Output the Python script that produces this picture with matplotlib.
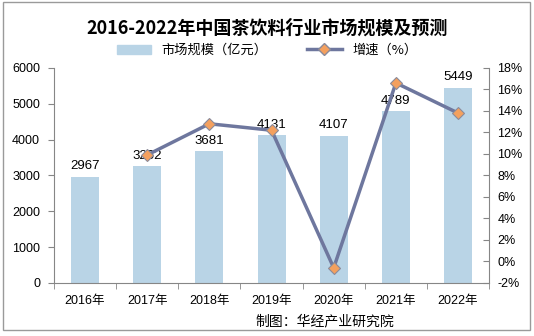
import matplotlib.pyplot as plt
from matplotlib.patches import Rectangle
from matplotlib.lines import Line2D
from matplotlib.patches import Patch

plt.rcParams['font.family'] = ['Liberation Sans', 'Noto Sans CJK SC', 'DejaVu Sans']

# Data
years = ["2016年", "2017年", "2018年", "2019年", "2020年", "2021年", "2022年"]
market_size = [2967, 3262, 3681, 4131, 4107, 4789, 5449]
growth_years = ["2017年", "2018年", "2019年", "2020年", "2021年", "2022年"]
growth = [9.9, 12.8, 12.2, -0.6, 16.6, 13.8]

bar_color = "#B9D4E6"
line_color = "#6E779E"
marker_color = "#F4A05E"

fig = plt.figure(figsize=(5.34, 3.36), dpi=100)
ax = fig.add_axes([0.101, 0.158, 0.815, 0.64])

x = list(range(len(years)))
ax.bar(x, market_size, width=0.45, color=bar_color, zorder=2)
for xi, v in zip(x, market_size):
    ax.text(xi, v + 120, str(v), ha="center", va="bottom", fontsize=9.5, zorder=5)

ax.set_xlim(-0.5, len(years) - 0.5)
ax.set_ylim(0, 6000)
ax.set_yticks(range(0, 6001, 1000))
ax.set_xticks(x)
ax.set_xticklabels(years, fontsize=9)
ax.set_xticks([i + 0.5 for i in range(-1, len(years))], minor=True)
ax.tick_params(axis="x", which="major", length=0, pad=9)
ax.tick_params(axis="x", which="minor", length=4, color="#868686")
ax.tick_params(axis="y", length=4, color="#868686", labelsize=9, pad=6)
for s in ["top", "right"]:
    ax.spines[s].set_visible(False)
ax.spines["left"].set_color("#868686")
ax.spines["bottom"].set_color("#868686")

ax2 = ax.twinx()
gx = [years.index(y) for y in growth_years]
ax2.plot(gx, growth, color=line_color, linewidth=2.5, marker="D", markersize=6,
         markerfacecolor=marker_color, markeredgecolor="#8A8A9A", markeredgewidth=0.8, zorder=4)
ax2.set_ylim(-2, 18)
ax2.set_yticks(range(-2, 19, 2))
ax2.set_yticklabels([f"{v}%" for v in range(-2, 19, 2)])
ax2.tick_params(axis="y", direction="in", length=4, color="#868686", labelsize=9, pad=6)
for s in ["top", "left", "bottom"]:
    ax2.spines[s].set_visible(False)
ax2.spines["right"].set_color("#868686")

fig.text(0.5, 0.915, "2016-2022年中国茶饮料行业市场规模及预测", ha="center", va="center",
         fontsize=13, fontweight="bold", family=["Noto Sans CJK SC", "DejaVu Sans"])

handles = [Patch(color=bar_color),
           Line2D([0], [0], color=line_color, linewidth=2.5, marker="D", markersize=6,
                  markerfacecolor=marker_color, markeredgecolor="#8A8A9A")]
fig.legend(handles, ["市场规模（亿元）", "增速（%）"], loc="center", bbox_to_anchor=(0.5, 0.85),
           ncol=2, frameon=False, handlelength=2.6, columnspacing=3,
           prop={"family": ["Noto Sans CJK SC", "DejaVu Sans"], "size": 9.5})

fig.text(0.478, 0.045, "制图：华经产业研究院", ha="left", va="center", fontsize=10,
         family=["Noto Sans CJK SC", "DejaVu Sans"])

fig.patches.append(Rectangle((0.006, 0.018), 0.987, 0.976, transform=fig.transFigure,
                             fill=False, edgecolor="#9A9A9A", linewidth=1))

fig.savefig("out.png", dpi=100)
